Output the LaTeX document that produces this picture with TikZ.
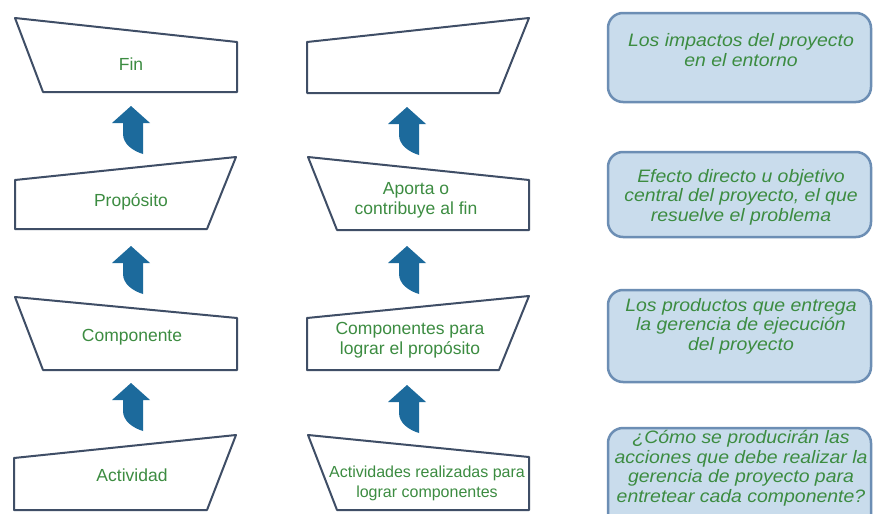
\documentclass[tikz,border=0pt]{standalone}
\usepackage{fontspec}
\setmainfont{Liberation Sans}
\newfontfamily\rfont[FakeStretch=1.08]{Liberation Sans}
\definecolor{trapc}{HTML}{3F4E66}
\definecolor{txtg}{HTML}{3C8C41}
\definecolor{arrc}{HTML}{1C6A9C}
\definecolor{boxf}{HTML}{C9DCEC}
\definecolor{boxc}{HTML}{6C8EB4}
\begin{document}
\begin{tikzpicture}[x=1pt,y=-1pt,
  trap/.style={draw=trapc, line width=2pt, fill=white, line join=round},
  lbl/.style={text=txtg, font=\fontsize{17.5}{20}\selectfont, align=center, inner sep=0pt},
  slbl/.style={text=txtg, font=\fontsize{16}{20}\selectfont, align=center, inner sep=0pt},
  rbox/.style={draw=boxc, fill=boxf, line width=2.5pt, rounded corners=15pt, minimum width=263pt, inner sep=0pt},
  rlbl/.style={text=txtg, font=\rfont\itshape\fontsize{18}{19.5}\selectfont, align=center, inner sep=0pt},
  uparr/.pic={\fill[arrc] (0,0) -- (19,17) -- (12,17) -- (12,48) .. controls (2,45) and (-8,38) .. (-8,28) -- (-8,17) -- (-19,17) -- cycle;}
]
\useasboundingbox (0,0) rectangle (873,514);
\clip (0,0) rectangle (873,514);
\fill[white] (0,0) rectangle (873,514);

% left column
\draw[trap] (15,18) -- (237,42) -- (237,92) -- (43,92) -- cycle;
\node[lbl] (fin) at (131,64) {Fin};
\draw[trap] (15,180) -- (236,157) -- (207,229) -- (15,229) -- cycle;
\node[lbl] (prop) at (131,202) {Propósito};
\draw[trap] (15,297) -- (237,318) -- (237,370) -- (43,370) -- cycle;
\node[lbl] (comp) at (132,337) {Componente};
\draw[trap] (14,458) -- (236,435) -- (207,510) -- (14,510) -- cycle;
\node[lbl] (act) at (132,475) {Actividad};

\pic (la1) at (131,106) {uparr};
\pic (la2) at (131,246) {uparr};
\pic (la3) at (131,383) {uparr};

% middle column
\draw[trap] (307,42) -- (529,18) -- (499,93) -- (307,93) -- cycle;
\coordinate (mtop) at (418,60);
\draw[trap] (308,157) -- (529,180) -- (529,230) -- (337,230) -- cycle;
\node[lbl] (aporta) at (416,200) {Aporta o\\contribuye al fin};
\draw[trap] (307,318) -- (529,296) -- (499,370) -- (307,370) -- cycle;
\node[lbl] (comps) at (410,340) {Componentes para\\lograr el propósito};
\draw[trap] (308,435) -- (529,457) -- (529,510) -- (337,510) -- cycle;
\node[slbl] (acts) at (427,483) {Actividades realizadas para\\lograr componentes};

\pic (ma1) at (407,107) {uparr};
\pic (ma2) at (407,246) {uparr};
\pic (ma3) at (407,385) {uparr};

% right column
\node[rbox, minimum height=89pt] (r1) at (739.5,57.5) {};
\node[rlbl] (t1) at (741,50) {Los impactos del proyecto\\en el entorno};
\node[rbox, minimum height=85pt] (r2) at (739.5,194.5) {};
\node[rlbl] (t2) at (741,197) {Efecto directo u objetivo\\central del proyecto, el que\\resuelve el problema};
\node[rbox, minimum height=92pt] (r3) at (739.5,336) {};
\node[rlbl] (t3) at (741,326) {Los productos que entrega\\la gerencia de ejecución\\del proyecto};
\node[rbox, minimum height=102pt] (r4) at (739.5,479) {};
\node[rlbl] (t4) at (741,468) {¿Cómo se producirán las\\acciones que debe realizar la\\gerencia de proyecto para\\entretear cada componente?};
\end{tikzpicture}
\end{document}
